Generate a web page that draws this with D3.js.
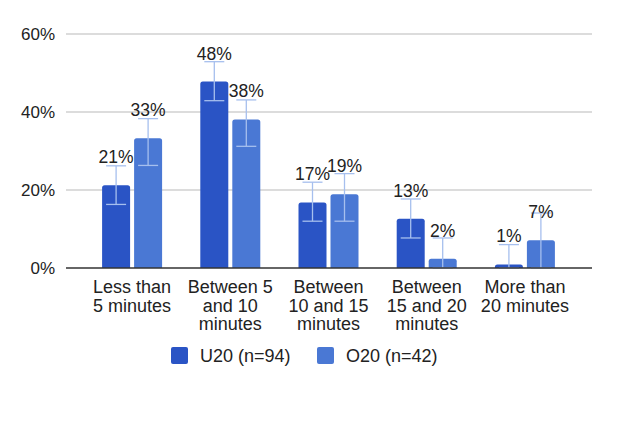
<!DOCTYPE html>
<html><head><meta charset="utf-8">
<script src="https://cdn.jsdelivr.net/npm/d3@7"></script>
<style>html,body{margin:0;padding:0;background:#fff;}svg{display:block;}</style>
</head><body>
<svg id="chart" width="618" height="423"></svg>
<script>
const categories = [
  ["Less than", "5 minutes"],
  ["Between 5", "and 10", "minutes"],
  ["Between", "10 and 15", "minutes"],
  ["Between", "15 and 20", "minutes"],
  ["More than", "20 minutes"]
];
const seriesNames = ["U20 (n=94)", "O20 (n=42)"];
const u20Values = [21.2, 47.8, 16.8, 12.6, 0.9];
const o20Values = [33.3, 38.1, 18.9, 2.4, 7.1];
const u20ErrLow = [16.3, 42.9, 12.0, 7.7, 0];
const u20ErrHigh = [26.2, 52.9, 22.0, 17.7, 6.0];
const o20ErrLow = [26.3, 31.2, 12.0, 0, 0];
const o20ErrHigh = [38.3, 43.1, 24.2, 7.7, 14.1];
const yTicks = [0, 20, 40, 60];

const colors = ["#2a54c5", "#4a78d4"];
const errColor = "#a6bfee";
const font = "'Liberation Sans', Arial, sans-serif";

const svg = d3.select("#chart");
const catKeys = categories.map(c => c.join(" "));
const x = d3.scaleBand().domain(catKeys).range([83, 574]);
const xSub = d3.scaleBand().domain(seriesNames).range([0, 60]).paddingInner(0.125);
const y = d3.scaleLinear().domain([0, 60]).range([268, 34]);

// gridlines & tick labels
const yAxis = d3.axisLeft(y).tickValues(yTicks).tickFormat(d => d + "%").tickSize(0).tickPadding(11);
const gAxis = svg.append("g").attr("transform", "translate(66,0)").call(yAxis);
gAxis.select(".domain").remove();
gAxis.selectAll("text").attr("font-family", font).attr("font-size", 17).attr("fill", "#222");
svg.append("g").selectAll("line").data(yTicks.filter(d => d > 0)).join("line")
  .attr("x1", 66).attr("x2", 592).attr("y1", d => y(d)).attr("y2", d => y(d))
  .attr("stroke", "#d0d0d0").attr("stroke-width", 1.3);

const data = catKeys.map((k, i) => ({
  key: k,
  bars: [
    {s: seriesNames[0], v: u20Values[i], lo: u20ErrLow[i], hi: u20ErrHigh[i], c: 0},
    {s: seriesNames[1], v: o20Values[i], lo: o20ErrLow[i], hi: o20ErrHigh[i], c: 1}
  ]
}));
const groupX = k => x(k) + x.bandwidth() / 2 - 30;

const groups = svg.append("g").selectAll("g").data(data).join("g")
  .attr("transform", d => `translate(${groupX(d.key)},0)`);

// bars with rounded top corners
const r = 2.5;
groups.selectAll("path.bar").data(d => d.bars).join("path").attr("class", "bar")
  .attr("fill", d => colors[d.c])
  .attr("d", d => {
    const x0 = xSub(d.s), w = xSub.bandwidth(), y0 = y(d.v), yb = y(0);
    const rr = Math.min(r, (yb - y0));
    return `M${x0},${yb}V${y0 + rr}Q${x0},${y0} ${x0 + rr},${y0}H${x0 + w - rr}Q${x0 + w},${y0} ${x0 + w},${y0 + rr}V${yb}Z`;
  });

// axis baseline
svg.append("line").attr("x1", 66).attr("x2", 592).attr("y1", y(0)).attr("y2", y(0))
  .attr("stroke", "#333").attr("stroke-width", 1.3);

// error bars
const capW = 20;
groups.each(function(d) {
  const g = d3.select(this);
  d.bars.forEach(b => {
    const cx = xSub(b.s) + xSub.bandwidth() / 2;
    g.append("line").attr("x1", cx).attr("x2", cx).attr("y1", y(b.hi)).attr("y2", y(b.lo))
      .attr("stroke", errColor).attr("stroke-width", 1.3);
    [b.hi, b.lo].forEach(v => {
      g.append("line").attr("x1", cx - capW / 2).attr("x2", cx + capW / 2).attr("y1", y(v)).attr("y2", y(v))
        .attr("stroke", errColor).attr("stroke-width", 1.3);
    });
  });
});

// data labels
groups.selectAll("text.val").data(d => d.bars).join("text").attr("class", "val")
  .attr("x", d => xSub(d.s) + xSub.bandwidth() / 2)
  .attr("y", d => y(d.v) - 22)
  .attr("text-anchor", "middle").attr("font-family", font).attr("font-size", 17.5).attr("fill", "#222")
  .text(d => Math.round(d.v) + "%");

// category labels
const catG = svg.append("g").selectAll("text").data(categories).join("text")
  .attr("text-anchor", "middle").attr("font-family", font).attr("font-size", 18).attr("fill", "#222")
  .attr("transform", (d, i) => `translate(${x(catKeys[i]) + x.bandwidth() / 2},293)`);
catG.selectAll("tspan").data(d => d).join("tspan")
  .attr("x", 0).attr("y", (d, i) => i * 18.5).text(d => d);

// legend
const legendX = [171, 317];
const leg = svg.append("g").selectAll("g").data(seriesNames).join("g")
  .attr("transform", (d, i) => `translate(${legendX[i]},347)`);
leg.append("rect").attr("width", 17).attr("height", 17).attr("rx", 2).attr("fill", (d, i) => colors[i]);
leg.append("text").attr("x", 29).attr("y", 15).attr("font-family", font).attr("font-size", 18).attr("fill", "#222").text(d => d);
</script>
</body></html>
